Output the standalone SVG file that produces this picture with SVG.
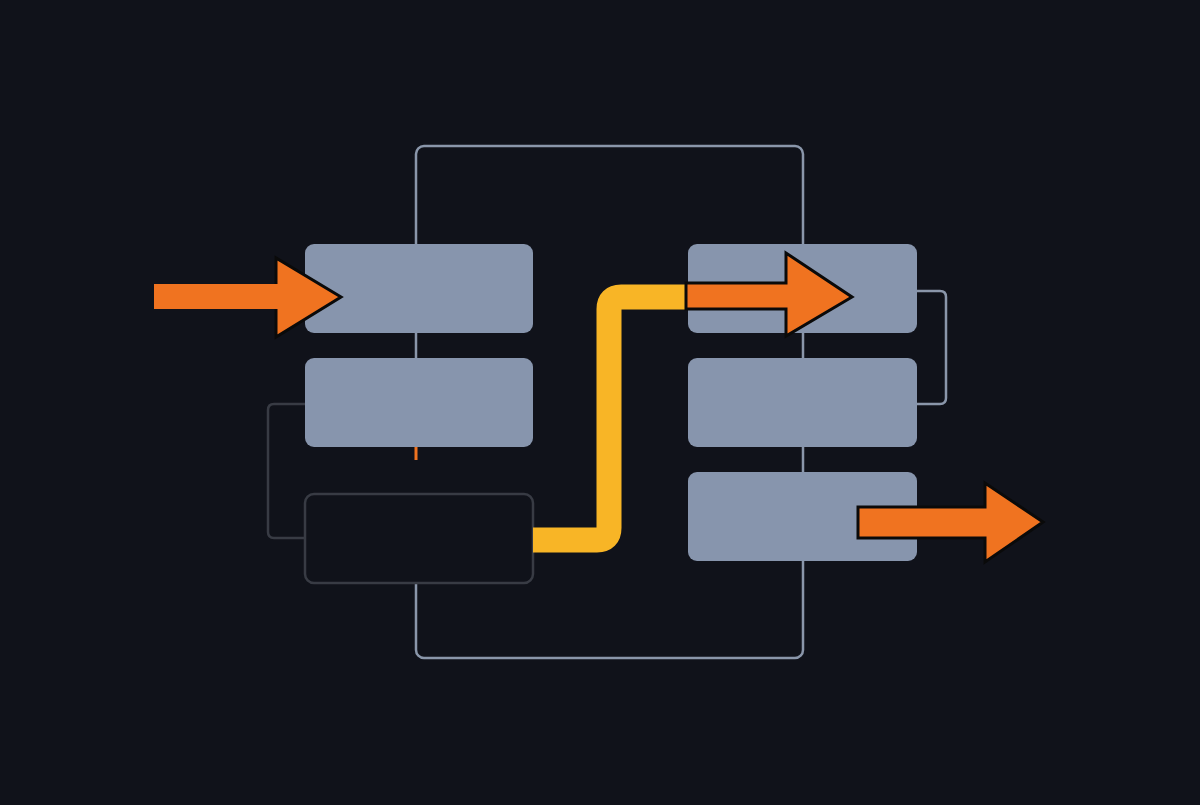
<svg xmlns="http://www.w3.org/2000/svg" width="1200" height="805" viewBox="0 0 1200 805">
<style>
.box{fill:#8795ad}
.dark{fill:#10121a;stroke:#383b44;stroke-width:2.5}
.frame{fill:none;stroke:#8a96aa;stroke-width:2.5}
.arr{fill:#f07320;stroke:#0a0a0a;stroke-width:3;stroke-linejoin:miter}
</style>
<rect width="1200" height="805" fill="#10121a"/>
<g id="connectors">
<rect class="frame" x="416" y="146" width="387" height="512" rx="8"/>
<rect x="410" y="447" width="12" height="47" fill="#10121a"/>
<path d="M305 404 H274 Q268 404 268 410 V532 Q268 538 274 538 H305" fill="none" stroke="#383b44" stroke-width="2.5"/>
<path d="M917 291 H940 Q946 291 946 297 V398 Q946 404 940 404 H917" fill="none" stroke="#8a96aa" stroke-width="2.5"/>
<line x1="416" y1="447" x2="416" y2="460" stroke="#f07320" stroke-width="3"/>
</g>
<g id="n1"><rect class="box" x="305" y="244" width="228" height="89" rx="9"/></g>
<g id="n2"><rect class="box" x="305" y="358" width="228" height="89" rx="9"/></g>
<g id="n3"><rect class="dark" x="305" y="494" width="228" height="89" rx="9"/></g>
<g id="n4"><rect class="box" x="688" y="244" width="229" height="89" rx="9"/></g>
<g id="n5"><rect class="box" x="688" y="358" width="229" height="89" rx="9"/></g>
<g id="n6"><rect class="box" x="688" y="472" width="229" height="89" rx="9"/></g>
<g id="flows">
<path d="M533 540 H597 Q609 540 609 528 V309 Q609 297 621 297 H688" fill="none" stroke="#f8b526" stroke-width="25"/>
<polygon class="arr" points="154,284 276,284 276,258 341,297 276,337 276,309 154,309" style="stroke:none"/>
<path d="M276 284 V258 L341 297 L276 337 V309" fill="none" stroke="#0a0a0a" stroke-width="3"/>
<polygon class="arr" points="686,283 786,283 786,253 852,297 786,336 786,309 686,309"/>
<polygon class="arr" points="858,507 985,507 985,483 1043,522 985,562 985,538 858,538"/>
</g>
</svg>
